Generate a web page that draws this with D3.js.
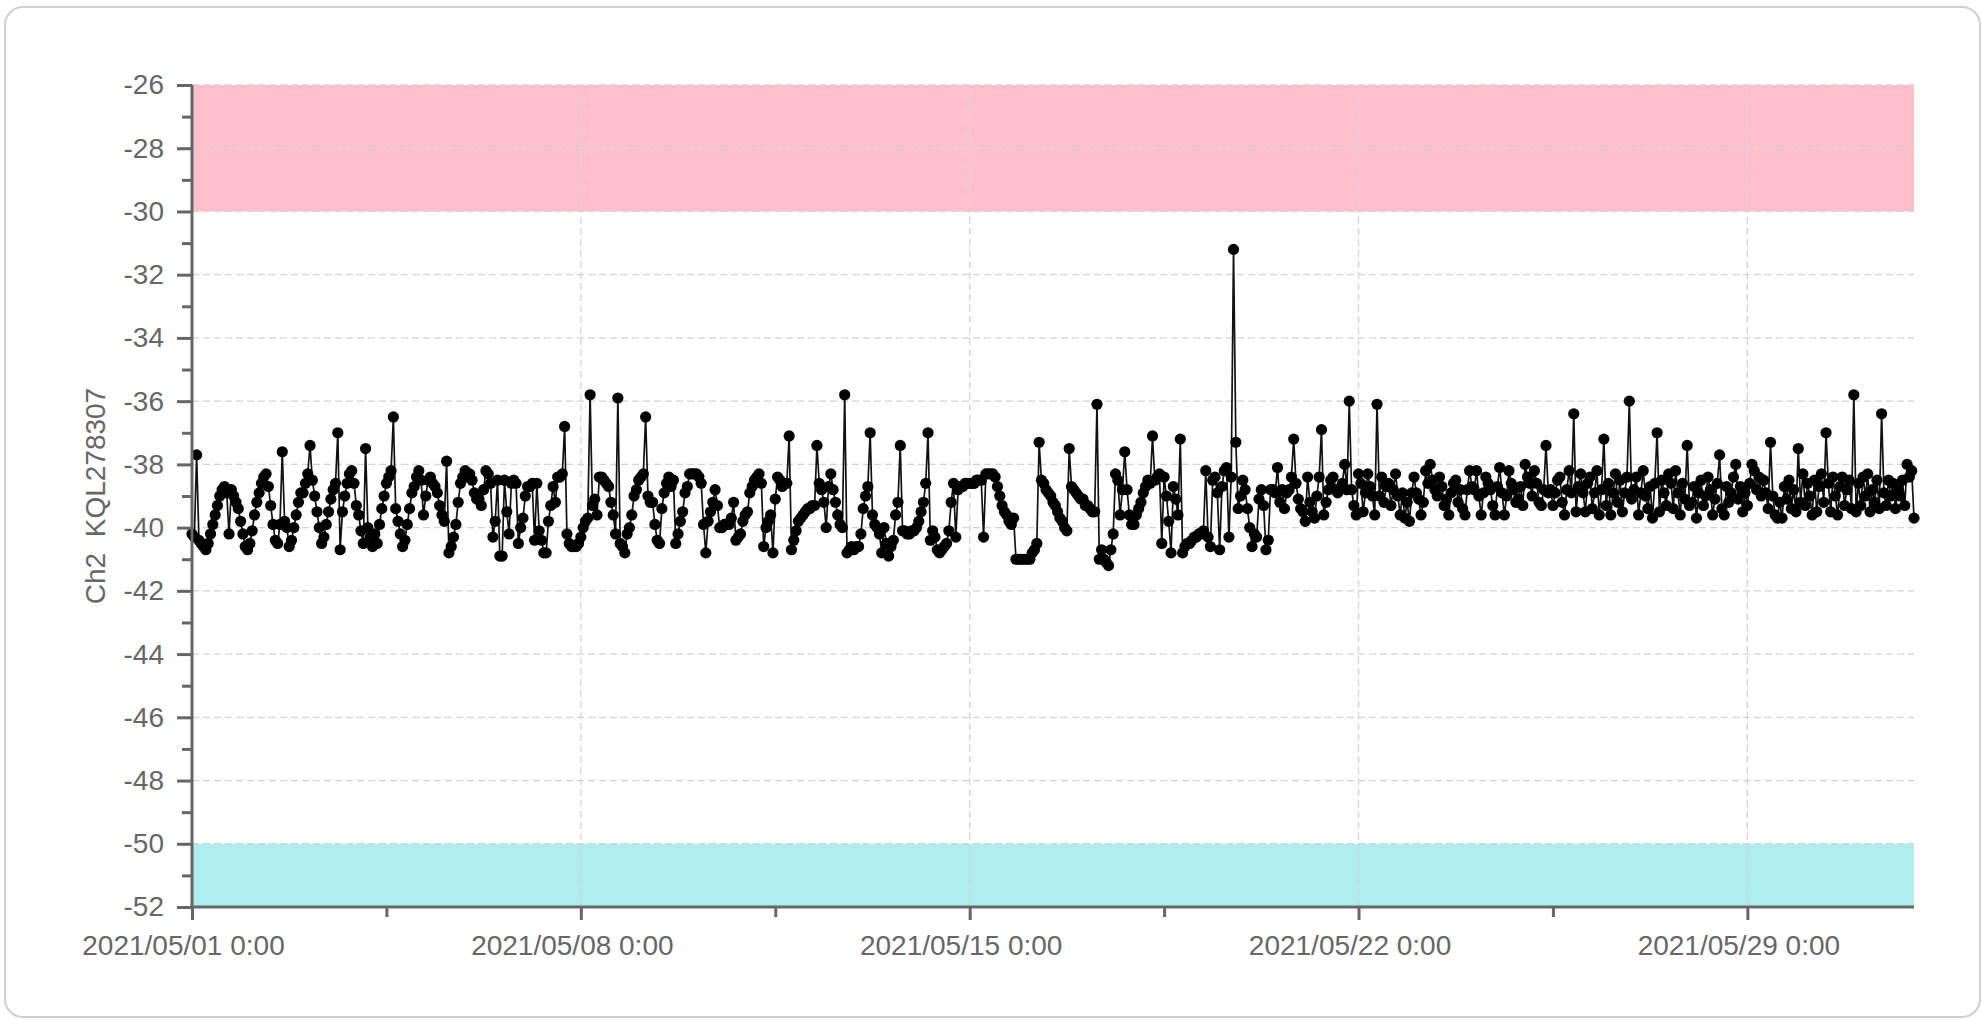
<!DOCTYPE html>
<html>
<head>
<meta charset="utf-8">
<script src="https://cdn.jsdelivr.net/npm/d3@7"></script>
<style>
  body { margin: 0; background: #fff; }
  svg text { font-family: "Liberation Sans", Arial, sans-serif; }
</style>
</head>
<body>
<svg id="chart" width="1982" height="1020"></svg>
<script>
// hourly readings, starting 2021/05/01 0:00 (one row per day)
const week1 = [
  -40.2, -40.3, -37.7, -40.4, -40.5, -40.6, -40.7, -40.5, -40.2, -39.9, -39.6, -39.3, -39.0, -38.8, -38.7, -38.9, -40.2, -38.8, -39.0, -39.2, -39.4, -39.8, -40.2, -40.6,
  -40.7, -40.5, -40.1, -39.6, -39.2, -38.9, -38.6, -38.4, -38.3, -38.7, -39.3, -39.9, -40.4, -40.5, -39.9, -37.6, -39.8, -40.0, -40.6, -40.4, -40.0, -39.6, -39.2, -38.9,
  -38.9, -38.6, -38.3, -37.4, -38.5, -39.0, -39.5, -40.0, -40.5, -40.3, -39.9, -39.5, -39.1, -38.8, -38.6, -37.0, -40.7, -39.5, -39.0, -38.6, -38.3, -38.2, -38.6, -39.3,
  -39.6, -40.1, -40.5, -37.5, -40.0, -40.3, -40.6, -40.2, -40.5, -39.9, -39.4, -39.0, -38.6, -38.4, -38.2, -36.5, -39.4, -39.8, -40.2, -40.6, -40.4, -39.9, -39.4, -38.9,
  -38.7, -38.4, -38.2, -38.5, -39.6, -39.0, -38.5, -38.4, -38.6, -38.7, -38.9, -39.3, -39.6, -39.8, -37.9, -40.8, -40.6, -40.3, -39.9, -39.2, -38.6, -38.4, -38.2, -38.4,
  -38.3, -38.5, -38.9, -39.1, -39.1, -39.3, -38.8, -38.2, -38.3, -38.6, -40.3, -39.8, -38.5, -40.9, -40.9, -38.5, -39.5, -40.2, -38.6, -38.5, -38.6, -40.5, -40.0, -39.7,
  -39.0, -38.7, -38.7, -38.6, -40.4, -38.6, -40.1, -40.4, -40.8, -40.8, -39.8, -39.3, -38.7, -39.2, -38.4, -38.4, -38.3, -36.8, -40.2, -40.5, -40.6, -40.6, -40.6, -40.5
];
const week2 = [
  -40.3, -40.0, -39.8, -39.7, -35.8, -39.3, -39.1, -39.6, -38.4, -38.4, -38.5, -38.6, -38.7, -39.2, -39.6, -40.2, -35.9, -40.5, -40.6, -40.8, -40.2, -40.0, -39.6, -39.0,
  -38.8, -38.5, -38.4, -38.3, -36.5, -39.0, -39.2, -39.2, -39.9, -40.4, -40.5, -39.4, -38.9, -38.6, -38.4, -38.7, -38.5, -40.5, -40.2, -39.8, -39.5, -38.9, -38.7, -38.3,
  -38.3, -38.3, -38.3, -38.4, -38.6, -39.9, -40.8, -39.8, -39.5, -39.2, -38.8, -39.3, -40.0, -40.0, -39.9, -39.9, -39.9, -39.7, -39.2, -40.4, -40.3, -40.2, -39.8, -39.6,
  -39.5, -38.9, -38.7, -38.5, -38.4, -38.3, -38.6, -40.6, -40.0, -39.8, -39.6, -40.8, -39.1, -38.4, -38.5, -38.7, -38.6, -38.6, -37.1, -40.7, -40.4, -40.1, -39.8, -39.7,
  -39.6, -39.5, -39.4, -39.4, -39.3, -39.3, -37.4, -38.6, -38.8, -39.2, -40.0, -38.7, -38.3, -38.8, -39.2, -39.6, -39.9, -40.0, -35.8, -40.8, -40.7, -40.6, -40.7, -40.6,
  -40.6, -40.2, -39.4, -39.0, -38.7, -37.0, -39.6, -39.9, -40.0, -40.2, -40.8, -40.0, -40.5, -40.9, -40.6, -40.4, -39.6, -39.2, -37.4, -40.1, -40.1, -40.2, -40.2, -40.1,
  -40.1, -40.0, -39.8, -39.5, -39.2, -38.6, -37.0, -40.4, -40.1, -40.3, -40.7, -40.8, -40.7, -40.6, -40.5, -40.1, -39.2, -38.6, -40.3, -38.8, -38.7, -38.7, -38.6, -38.6
];
const week3 = [
  -38.6, -38.6, -38.6, -38.5, -38.5, -38.5, -40.3, -38.3, -38.3, -38.3, -38.3, -38.4, -38.7, -39.0, -39.3, -39.5, -39.6, -39.8, -39.9, -39.7, -41.0, -41.0, -41.0, -41.0,
  -41.0, -41.0, -41.0, -40.8, -40.7, -40.5, -37.3, -38.5, -38.6, -38.8, -38.9, -39.0, -39.2, -39.3, -39.5, -39.7, -39.8, -40.0, -40.1, -37.5, -38.7, -38.8, -38.9, -39.0,
  -39.1, -39.1, -39.3, -39.3, -39.4, -39.5, -39.5, -36.1, -41.0, -40.7, -41.0, -41.1, -41.2, -40.7, -40.2, -38.3, -38.5, -39.6, -38.8, -37.6, -38.8, -39.6, -39.9, -39.9,
  -39.6, -39.4, -39.2, -38.9, -38.7, -38.5, -38.6, -37.1, -38.5, -38.4, -38.3, -40.5, -38.4, -39.0, -39.8, -40.8, -38.7, -39.1, -39.6, -37.2, -40.8, -40.6, -40.5, -40.5,
  -40.4, -40.3, -40.3, -40.2, -40.2, -40.1, -38.2, -40.3, -40.6, -38.5, -38.4, -38.9, -40.7, -38.7, -38.2, -38.1, -40.3, -38.4, -31.2, -37.3, -39.4, -39.0, -38.5, -38.8,
  -39.4, -40.0, -40.6, -40.2, -40.3, -39.1, -38.8, -39.3, -40.7, -40.4, -38.8, -38.8, -38.9, -38.1, -39.2, -38.8, -39.4, -38.9, -38.8, -38.4, -37.2, -38.6, -39.1, -39.4,
  -39.5, -39.8, -38.4, -39.2, -39.5, -39.7, -39.0, -38.4, -36.9, -39.6, -39.2, -38.8, -38.5, -38.4, -38.8, -38.9, -38.8, -38.6, -38.0, -38.8, -36.0, -38.8, -39.3, -39.6
];
const week4 = [
  -38.3, -38.6, -39.5, -38.9, -38.3, -38.7, -39.0, -39.6, -36.1, -39.0, -38.4, -39.2, -38.7, -38.6, -39.3, -38.8, -38.3, -39.0, -39.6, -38.9, -39.7, -39.2, -39.8, -38.9,
  -38.4, -38.9, -39.1, -39.6, -39.2, -38.2, -38.6, -38.0, -38.5, -38.8, -39.0, -38.4, -38.7, -39.3, -39.1, -39.6, -38.9, -38.6, -38.5, -39.2, -38.8, -39.4, -39.6, -38.8,
  -38.2, -38.7, -38.8, -38.2, -39.0, -39.6, -38.9, -38.4, -38.6, -38.8, -39.3, -39.6, -38.7, -38.1, -38.9, -39.6, -39.0, -38.2, -38.6, -38.8, -39.2, -39.1, -38.7, -39.3,
  -38.0, -38.4, -38.6, -39.0, -38.2, -38.6, -39.2, -39.3, -38.8, -37.4, -38.9, -38.8, -39.3, -38.9, -38.5, -38.4, -39.2, -39.6, -38.8, -38.2, -38.9, -36.4, -39.5, -38.7,
  -38.3, -38.9, -39.5, -38.6, -38.4, -39.4, -38.9, -38.2, -39.6, -38.8, -37.2, -39.3, -38.6, -39.6, -38.9, -38.3, -39.2, -38.5, -39.5, -38.9, -38.4, -36.0, -39.1, -38.8,
  -38.4, -39.6, -38.9, -38.2, -39.0, -39.4, -38.7, -39.7, -38.6, -37.0, -39.5, -38.5, -38.9, -39.3, -38.3, -38.6, -39.4, -38.2, -38.9, -39.6, -38.6, -39.1, -37.4, -39.3,
  -39.2, -38.7, -39.7, -38.9, -38.5, -39.3, -39.0, -38.4, -38.8, -39.6, -39.1, -38.6, -37.7, -39.4, -39.6, -38.7, -39.2, -38.9, -38.4, -38.0, -39.1, -38.7, -39.5, -38.9
];
const week5 = [
  -39.3, -38.6, -38.0, -38.2, -38.8, -38.4, -39.0, -38.5, -38.9, -39.4, -37.3, -39.0, -39.6, -39.7, -39.2, -39.7, -38.7, -39.1, -38.5, -39.4, -38.8, -39.5, -37.5, -39.2,
  -38.3, -39.3, -38.6, -39.0, -39.6, -38.5, -39.5, -38.7, -38.3, -39.2, -37.0, -38.6, -39.5, -38.4, -39.0, -39.6, -38.7, -38.4, -39.3, -38.8, -38.5, -39.4, -35.8, -39.5,
  -38.6, -39.3, -38.4, -39.0, -38.3, -39.5, -38.8, -39.2, -38.5, -39.4, -36.4, -38.9, -39.3, -38.5, -39.0, -38.6, -39.4, -38.8, -39.0, -38.5, -39.3, -38.0, -38.4, -38.2,
  -39.7
];

const seriesName = 'Ch2  KQL278307';
const startTime = new Date(2021, 4, 1, 0, 0);
const endTime = new Date(2021, 5, 1, 0, 0);
const stepHours = 1;
const yMajorTicks = [-52, -50, -48, -46, -44, -42, -40, -38, -36, -34, -32, -30, -28, -26];
const upperLimit = [-30, -26];
const lowerLimit = [-52, -50];

const values = [...week1, ...week2, ...week3, ...week4, ...week5];
const data = values.map((v, i) => ({ t: d3.timeHour.offset(startTime, i * stepHours), v }));

const svg = d3.select('#chart');
const plotLeft = 192, plotRight = 1914, plotTop = 85, plotBottom = 907;
const axisColor = '#666';

svg.append('rect')
  .attr('x', 5).attr('y', 7)
  .attr('width', 1975).attr('height', 1010)
  .attr('rx', 18)
  .attr('fill', '#fff')
  .attr('stroke', '#cfcfcf')
  .attr('stroke-width', 2);

const x = d3.scaleTime().domain([startTime, endTime]).range([plotLeft, plotRight]);
const y = d3.scaleLinear().domain([-52, -26]).range([plotBottom, plotTop]);

// limit bands
svg.append('g')
  .selectAll('rect')
  .data([{ r: upperLimit, c: '#ffc0cb' }, { r: lowerLimit, c: '#afeeee' }])
  .enter().append('rect')
    .attr('x', plotLeft)
    .attr('width', plotRight - plotLeft)
    .attr('y', d => y(d.r[1]))
    .attr('height', d => y(d.r[0]) - y(d.r[1]))
    .attr('fill', d => d.c);

const xMajor = d3.range(0, 5).map(i => d3.timeDay.offset(startTime, 7 * i));
const xMinor = d3.range(0, 4).map(i => d3.timeHour.offset(startTime, 84 + 168 * i));

// grid
const grid = svg.append('g')
  .attr('stroke', '#d4d4d4')
  .attr('stroke-width', 1.3)
  .attr('stroke-dasharray', '7,4');

grid.selectAll('.hgrid')
  .data(yMajorTicks.filter(d => d > -52))
  .enter().append('line')
    .attr('class', 'hgrid')
    .attr('x1', plotLeft).attr('x2', plotRight)
    .attr('y1', d => y(d)).attr('y2', d => y(d));

grid.selectAll('.vgrid')
  .data(xMajor.slice(1))
  .enter().append('line')
    .attr('class', 'vgrid')
    .attr('x1', d => x(d)).attr('x2', d => x(d))
    .attr('y1', plotTop).attr('y2', plotBottom);

// series
const line = d3.line()
  .x(d => x(d.t))
  .y(d => y(d.v));

svg.append('path')
  .datum(data)
  .attr('fill', 'none')
  .attr('stroke', '#111')
  .attr('stroke-width', 1.7)
  .attr('d', line);

svg.append('g')
  .selectAll('circle')
  .data(data)
  .enter().append('circle')
    .attr('cx', d => x(d.t))
    .attr('cy', d => y(d.v))
    .attr('r', 5.6)
    .attr('fill', '#000');

// axes
const styleAxis = g => {
  g.selectAll('.domain').remove();
  g.selectAll('line').attr('stroke', axisColor).attr('stroke-width', 3);
  g.selectAll('text')
    .attr('fill', axisColor)
    .attr('font-size', 28)
    .attr('font-family', '"Liberation Sans", Arial, sans-serif');
};

svg.append('g')
  .attr('transform', `translate(${plotLeft},0)`)
  .call(d3.axisLeft(y).tickValues(d3.range(-51, -26, 2)).tickSize(10).tickFormat(''))
  .call(styleAxis);

svg.append('g')
  .attr('transform', `translate(${plotLeft},0)`)
  .call(d3.axisLeft(y).tickValues(yMajorTicks).tickSize(15).tickPadding(13).tickFormat(d => String(d)))
  .call(styleAxis);

svg.append('g')
  .attr('transform', `translate(0,${plotBottom})`)
  .call(d3.axisBottom(x).tickValues(xMinor).tickSize(10).tickFormat(''))
  .call(styleAxis);

svg.append('g')
  .attr('transform', `translate(0,${plotBottom})`)
  .call(d3.axisBottom(x).tickValues(xMajor).tickSize(13).tickPadding(15).tickFormat(d3.timeFormat('%Y/%m/%d %-H:%M')))
  .call(styleAxis)
  .call(g => g.selectAll('text').attr('x', -9));

// axis lines
svg.append('line')
  .attr('x1', plotLeft).attr('x2', plotLeft)
  .attr('y1', plotTop).attr('y2', plotBottom + 1.5)
  .attr('stroke', axisColor).attr('stroke-width', 3);

svg.append('line')
  .attr('x1', plotLeft - 1.5).attr('x2', plotRight)
  .attr('y1', plotBottom).attr('y2', plotBottom)
  .attr('stroke', axisColor).attr('stroke-width', 3);

svg.append('text')
  .attr('transform', `translate(105,${(plotTop + plotBottom) / 2}) rotate(-90)`)
  .attr('text-anchor', 'middle')
  .attr('fill', axisColor)
  .attr('font-size', 28)
  .style('white-space', 'pre')
  .text(seriesName);
</script>
</body>
</html>
